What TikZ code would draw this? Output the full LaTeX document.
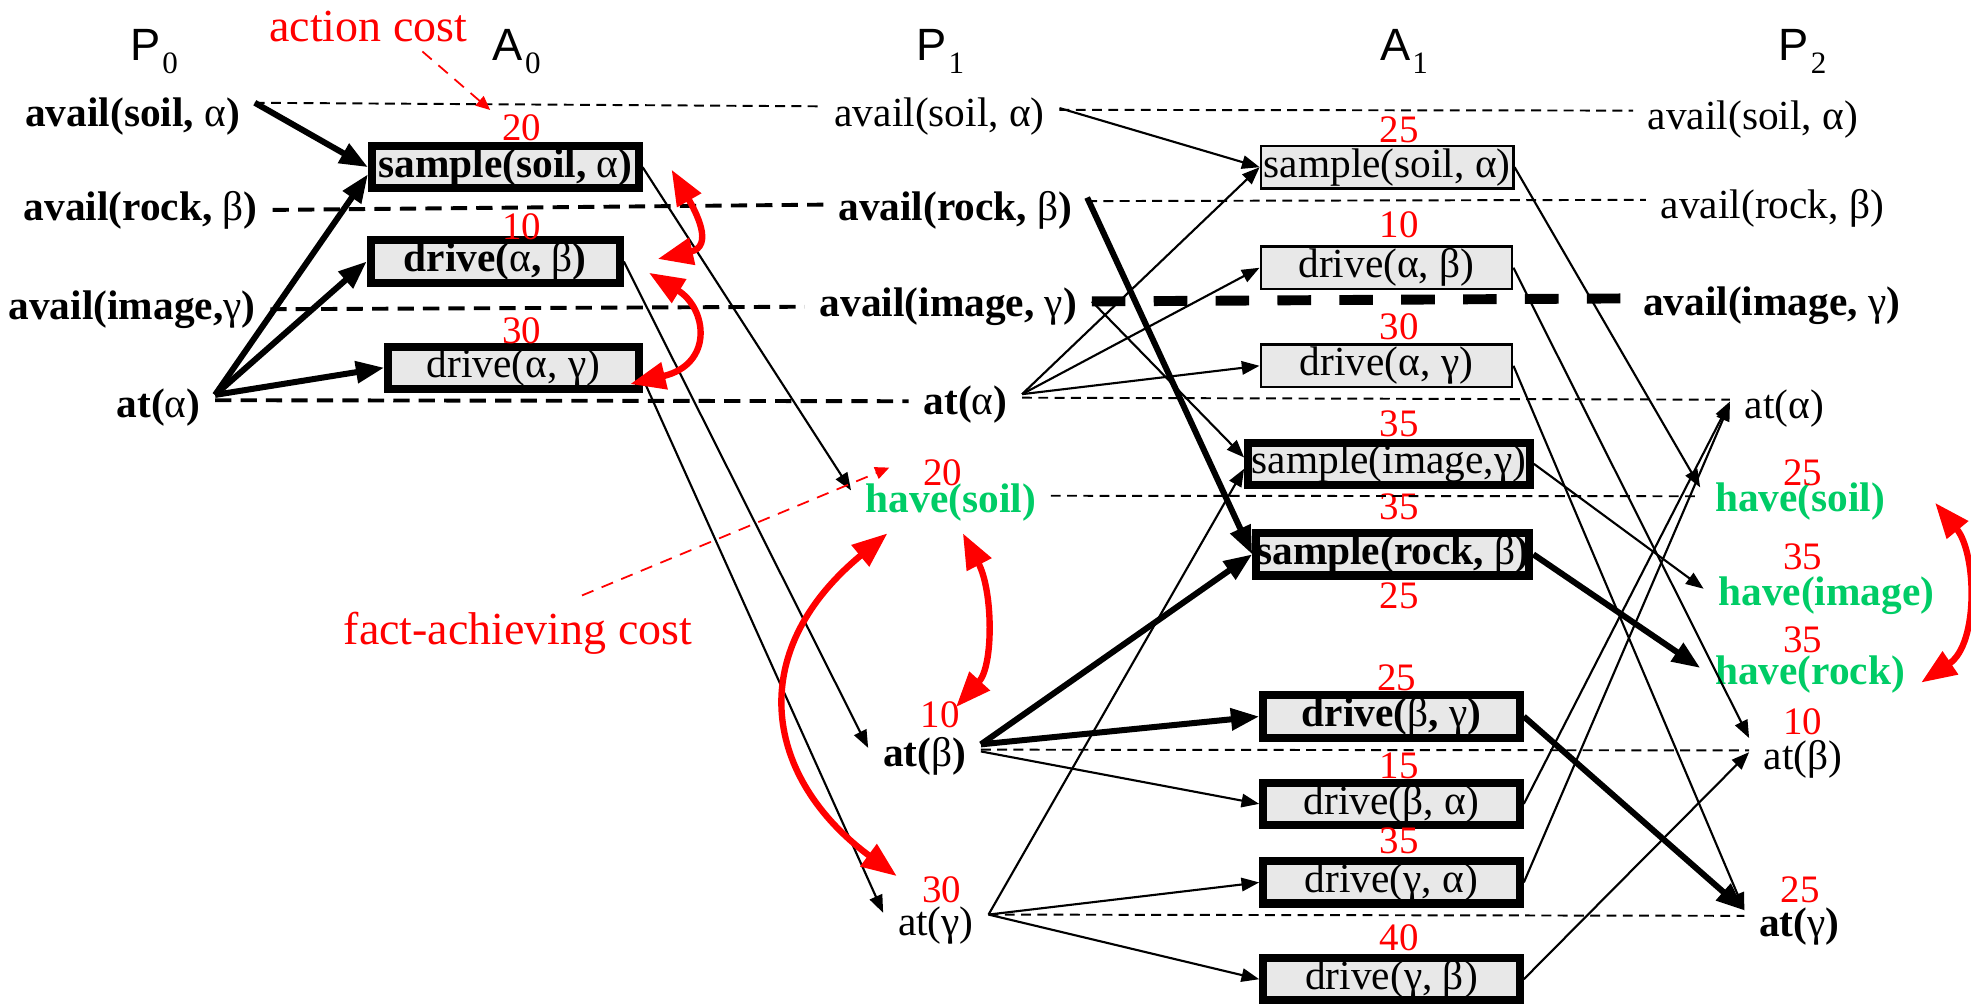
\documentclass[tikz,border=0pt]{standalone}
\usepackage{fontspec}
\setmainfont{Liberation Serif}
\setsansfont{Liberation Sans}
\usetikzlibrary{arrows.meta}

\definecolor{goalgreen}{RGB}{0,204,102}
\definecolor{boxgray}{RGB}{232,232,232}
\newcommand{\labelsize}{\fontsize{11.7}{14}\selectfont}
\newcommand{\lvl}[2]{{\sffamily\fontsize{12.8}{15}\selectfont #1}\hspace{0.6pt}\raisebox{-3.8pt}{\fontsize{8.8}{10}\selectfont #2}}
\newcommand{\galpha}{\textmd{α}}
\newcommand{\gbeta}{\textmd{β}}
\newcommand{\ggamma}{\textmd{γ}}

\begin{document}
\begin{tikzpicture}[
  x=0.0125cm, y=-0.0125cm,
  level/.style={anchor=base, inner sep=0pt},
  fact/.style={font=\labelsize, inner xsep=4pt, inner ysep=1pt},
  keyfact/.style={fact, font=\labelsize\bfseries},
  goal/.style={keyfact, text=goalgreen},
  act/.style={draw, fill=boxgray, line width=0.7pt, inner sep=0pt, font=\labelsize, minimum height=0.42cm},
  keyact/.style={act, line width=2.3pt},
  strong/.style={font=\labelsize\bfseries},
  cost/.style={text=red, inner sep=0pt, font=\fontsize{11}{13}\selectfont},
  note/.style={text=red, inner sep=0pt, anchor=base, font=\fontsize{13}{15}\selectfont},
  link/.style={-{Triangle[length=5pt, width=3.8pt]}, line width=0.6pt},
  keylink/.style={-{Triangle[length=8pt, width=6pt]}, line width=1.7pt},
  noop/.style={line width=0.55pt, dash pattern=on 2.8pt off 1.8pt},
  keynoop/.style={line width=1.1pt, dash pattern=on 4.6pt off 2.6pt},
  bignoop/.style={line width=2.8pt, dash pattern=on 9.5pt off 8pt},
  mutex/.style={{Triangle[length=10pt, width=7.5pt]}-{Triangle[length=10pt, width=7.5pt]}, red, line width=1.8pt},
  pointer/.style={-{Triangle[length=4pt, width=3.5pt]}, red, line width=0.5pt, dash pattern=on 3.5pt off 2.5pt}
]
  \path[use as bounding box, fill=white] (0,0) rectangle (1568,798);

  % level headings
  \node[level] (hp0) at (122.5,48) {\lvl{P}{0}};
  \node[level] (ha0) at (411,48) {\lvl{A}{0}};
  \node[level] (hp1) at (748,48) {\lvl{P}{1}};
  \node[level] (ha1) at (1117,48) {\lvl{A}{1}};
  \node[level] (hp2) at (1434,48) {\lvl{P}{2}};

  % proposition level 0
  \node[keyfact] (p0soil) at (105.5,93) {avail(soil, \galpha)};
  \node[keyfact] (p0rock) at (112,167) {avail(rock, \gbeta)};
  \node[keyfact] (p0image) at (105,246) {avail(image,\ggamma)};
  \node[keyfact] (p0at) at (126,324) {at(\galpha)};

  % action level 0
  \node[keyact, strong, minimum width=2.65cm] (a0soil) at (402,133) {sample(soil, \galpha)};
  \node[keyact, strong, minimum width=2.475cm] (a0drab) at (394,208) {drive(\galpha, \gbeta)};
  \node[keyact, minimum width=2.49cm] (a0drag) at (408.5,292.5) {drive(α, γ)};

  % proposition level 1
  \node[fact] (p1soil) at (747.5,93) {avail(soil, α)};
  \node[keyfact] (p1rock) at (760,167) {avail(rock, \gbeta)};
  \node[keyfact] (p1image) at (754.5,244) {avail(image, \ggamma)};
  \node[keyfact] (p1at) at (768,322) {at(\galpha)};
  \node[goal] (p1have) at (756.5,400) {have(soil)};
  \node[keyfact] (p1atb) at (735.5,602) {at(\gbeta)};
  \node[fact] (p1atg) at (744.5,736) {at(γ)};

  % action level 1
  \node[act, minimum width=2.51cm] (a1soil) at (1103.5,133) {sample(soil, α)};
  \node[act, minimum width=2.5cm] (a1drab) at (1103,213) {drive(α, β)};
  \node[act, minimum width=2.5cm] (a1drag) at (1103,291) {drive(α, γ)};
  \node[keyact, minimum width=2.8cm] (a1img) at (1105,369) {sample(image,γ)};
  \node[keyact, strong, minimum width=2.675cm] (a1rock) at (1108,441) {sample(rock, \gbeta)};
  \node[keyact, strong, minimum width=2.55cm] (a1drbg) at (1107,570) {drive(\gbeta, \ggamma)};
  \node[keyact, minimum width=2.55cm] (a1drba) at (1107,639.5) {drive(β, α)};
  \node[keyact, minimum width=2.55cm] (a1drga) at (1107,702) {drive(γ, α)};
  \node[keyact, minimum width=2.55cm] (a1drgb) at (1107,779) {drive(γ, β)};

  % proposition level 2
  \node[fact] (p2soil) at (1394.5,95) {avail(soil, α)};
  \node[fact] (p2rock) at (1410,166) {avail(rock, β)};
  \node[keyfact] (p2image) at (1409.5,243) {avail(image, \ggamma)};
  \node[fact] (p2at) at (1419.5,325) {at(α)};
  \node[goal] (p2hsoil) at (1432,399) {have(soil)};
  \node[goal] (p2himage) at (1453,474) {have(image)};
  \node[goal] (p2hrock) at (1440,537) {have(rock)};
  \node[fact] (p2atb) at (1434.5,604) {at(β)};
  \node[keyfact] (p2atg) at (1431.5,737) {at(\ggamma)};

  % costs
  \node[cost] (c0soil) at (415,102) {20};
  \node[cost] (c0drab) at (415,180) {10};
  \node[cost] (c0drag) at (415,263) {30};
  \node[cost] (c1have) at (750,376) {20};
  \node[cost] (c1atb) at (748,569) {10};
  \node[cost] (c1atg) at (749,708) {30};
  \node[cost] (c1soil) at (1113,103.5) {25};
  \node[cost] (c1drab) at (1113,179) {10};
  \node[cost] (c1drag) at (1113,260) {30};
  \node[cost] (c1img) at (1113,337) {35};
  \node[cost] (c1rock) at (1113,403) {35};
  \node[cost] (c1rockb) at (1113,474) {25};
  \node[cost] (c1drbg) at (1111,539) {25};
  \node[cost] (c1drba) at (1113,609) {15};
  \node[cost] (c1drga) at (1113,669) {35};
  \node[cost] (c1drgb) at (1113,746) {40};
  \node[cost] (c2hsoil) at (1434,376) {25};
  \node[cost] (c2himage) at (1434,443) {35};
  \node[cost] (c2hrock) at (1434,509) {35};
  \node[cost] (c2atb) at (1434,574) {10};
  \node[cost] (c2atg) at (1432,708) {25};

  \node[note] (acost) at (293,33) {action cost};
  \node[note] (fcost) at (412,513) {fact-achieving cost};

  % persistence
  \draw[noop] ([yshift=4pt]p0soil.east) -- ([yshift=3pt]p1soil.west);
  \draw[keynoop] (p0rock.east) -- ([yshift=1.5pt]p1rock.west);
  \draw[keynoop] (p0image.east) -- (p1image.west);
  \draw[keynoop] ([yshift=2pt]p0at.east) -- ([yshift=1pt]p1at.west);
  \draw[noop] ([yshift=2pt]p1soil.east) -- ([yshift=2.5pt]p2soil.west);
  \draw[noop] ([yshift=2.5pt]p1rock.east) -- ([yshift=2.5pt]p2rock.west);
  \draw[bignoop] ([yshift=1.5pt]p1image.east) -- ([yshift=2pt]p2image.west);
  \draw[noop] ([yshift=2pt]p1at.east) -- ([yshift=2.5pt]p2at.west);
  \draw[noop] ([yshift=2pt]p1have.east) -- ([yshift=1.5pt]p2hsoil.west);
  \draw[noop] ([yshift=2pt]p1atb.east) -- ([yshift=2.5pt]p2atb.west);
  \draw[noop] ([yshift=3pt]p1atg.east) -- ([yshift=3pt]p2atg.west);

  % preconditions and effects
  \draw[keylink] ([yshift=4pt]p0soil.east) -- (a0soil.west);
  \draw[keylink] ([yshift=3.5pt]p0at.east) -- ([yshift=-2pt]a0soil.west);
  \draw[keylink] ([yshift=3.5pt]p0at.east) -- (a0drab.west);
  \draw[keylink] ([yshift=3.5pt]p0at.east) -- (a0drag.west);

  \draw[link] (a0soil.east) -- ([yshift=3.5pt]p1have.west);
  \draw[link] (a0drab.east) -- ([yshift=2.5pt]p1atb.west);
  \draw[link] ([yshift=-3pt]a0drag.east) -- ([yshift=3.5pt]p1atg.west);

  \draw[link] ([yshift=2.5pt]p1soil.east) -- (a1soil.west);
  \draw[keylink] ([yshift=3.5pt]p1rock.east) -- (a1rock.west);
  \draw[link] ([yshift=1.5pt]p1image.east) -- ([yshift=1.8pt]a1img.west);
  \draw[link] ([yshift=3pt]p1at.east) -- (a1soil.west);
  \draw[link] ([yshift=3pt]p1at.east) -- (a1drab.west);
  \draw[link] ([yshift=3pt]p1at.east) -- (a1drag.west);
  \draw[keylink] ([yshift=3.5pt]p1atb.east) -- (a1rock.west);
  \draw[keylink] ([yshift=3.5pt]p1atb.east) -- (a1drbg.west);
  \draw[link] ([yshift=1.5pt]p1atb.east) -- (a1drba.west);
  \draw[link] ([yshift=3pt]p1atg.east) -- ([yshift=-1.4pt]a1img.west);
  \draw[link] ([yshift=3pt]p1atg.east) -- (a1drga.west);
  \draw[link] ([yshift=3pt]p1atg.east) -- (a1drgb.west);

  \draw[link] (a1soil.east) -- ([yshift=4pt]p2hsoil.west);
  \draw[link] (a1drab.east) -- ([yshift=6pt]p2atb.west);
  \draw[link] (a1drag.east) -- ([yshift=4.5pt]p2atg.west);
  \draw[link] (a1img.east) -- ([yshift=2pt]p2himage.west);
  \draw[keylink] (a1rock.east) -- ([yshift=2pt]p2hrock.west);
  \draw[keylink] (a1drbg.east) -- ([yshift=4.5pt]p2atg.west);
  \draw[link] (a1drba.east) -- ([yshift=2pt]p2at.west);
  \draw[link] (a1drga.east) -- ([yshift=1.5pt]p2at.west);
  \draw[link] (a1drgb.east) -- ([yshift=2pt]p2atb.west);

  % mutexes
  \draw[mutex] ([shift={(27,-2)}]a0drab.east) .. controls +(45,-10) and +(19,33) .. ([shift={(23,2)}]a0soil.east);
  \draw[mutex] ([shift={(-10,13)}]a0drag.east) .. controls +(67,-16) and +(46,28) .. ([shift={(20,9)}]a0drab.east);
  \draw[mutex] ([shift={(-3.5,4.5)}]c1atb.north east) .. controls +(30,-33) and +(24,46) .. ([shift={(9.5,6)}]p1have.south);
  \draw[mutex] ([shift={(-50.5,6)}]p1have.south) .. controls +(-116,96) and +(-104,-77) .. ([shift={(-19.5,-11)}]c1atg.west);
  \draw[mutex] ([shift={(1,6)}]p2hrock.east) .. controls +(46,-31) and +(33,40) .. ([shift={(28,1)}]p2hsoil.east);

  % callouts
  \draw[pointer] ([shift={(43,7)}]acost.south) -- ([shift={(-9,-3.5)}]c0soil.north west);
  \draw[pointer] ([shift={(51,-13)}]fcost.north) -- ([shift={(-26.5,-4)}]c1have.west);

\end{tikzpicture}
\end{document}
